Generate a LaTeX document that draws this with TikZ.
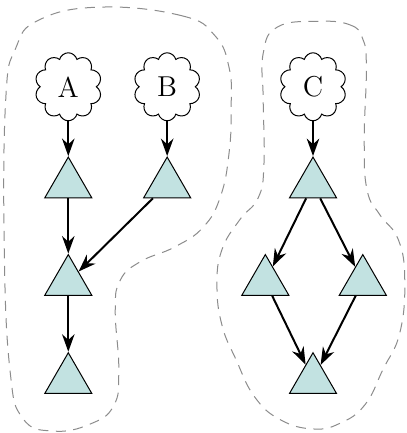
\documentclass[tikz,border=0pt]{standalone}
\definecolor{tealfill}{RGB}{194, 226, 225}
\usepackage{tikz}
\usetikzlibrary{shapes.geometric, shapes.symbols, arrows.meta}

\begin{document}
\begin{tikzpicture}[
    tri/.style={draw, fill=tealfill, regular polygon, regular polygon sides=3, minimum size=21.7pt, inner sep=0pt},
    src/.style={draw, cloud, cloud puffs=10, aspect=1, minimum width=26.8pt, minimum height=27.2pt, inner sep=1pt, font=\fontsize{11.5}{12}\selectfont},
    edge/.style={thick, -{Stealth[length=7pt, width=5pt]}},
    hull/.style={black!45, dashed, dash pattern=on 4pt off 3pt}
  ]
  \useasboundingbox (0,0) rectangle (5.708,-6.087);

  % sources
  \node[src] (A) at (0.96,-1.22) {A};
  \node[src] (B) at (2.35,-1.22) {B};
  \node[src] (C) at (4.40,-1.22) {C};

  % left group
  \node[tri] (a1) at (0.96,-2.59) {};
  \node[tri] (b1) at (2.35,-2.59) {};
  \node[tri] (a2) at (0.96,-3.96) {};
  \node[tri] (a3) at (0.96,-5.34) {};

  % right group
  \node[tri] (c1) at (4.40,-2.59) {};
  \node[tri] (c2) at (3.73,-3.96) {};
  \node[tri] (c3) at (5.10,-3.96) {};
  \node[tri] (c4) at (4.40,-5.34) {};

  \draw[edge] (A) -- (a1);
  \draw[edge] (B) -- (b1);
  \draw[edge] (a1) -- (a2);
  \draw[edge] (b1) -- (a2);
  \draw[edge] (a2) -- (a3);
  \draw[edge] (C) -- (c1);
  \draw[edge] (c1) -- (c2);
  \draw[edge] (c1) -- (c3);
  \draw[edge] (c2) -- (c4);
  \draw[edge] (c3) -- (c4);

  % outlines
  \draw[hull] plot[smooth cycle, tension=0.75] coordinates {
    (1.41,-0.10) (2.55,-0.22) (3.02,-0.50) (3.22,-0.95) (3.25,-1.50)
    (3.22,-2.15) (3.10,-2.76) (2.86,-3.19) (2.46,-3.47) (1.97,-3.68)
    (1.69,-3.94) (1.62,-4.36) (1.67,-5.20) (1.60,-5.70) (1.27,-5.96)
    (0.75,-6.06) (0.32,-5.88) (0.14,-5.20) (0.06,-3.51) (0.08,-1.41)
    (0.22,-0.68) (0.55,-0.28)};
  \draw[hull] plot[smooth cycle, tension=0.75] coordinates {
    (4.46,-0.30) (4.92,-0.35) (5.10,-0.55) (5.15,-0.95) (5.12,-1.97)
    (5.16,-2.67) (5.34,-3.02) (5.60,-3.37) (5.69,-3.94) (5.62,-4.68)
    (5.38,-5.20) (5.13,-5.69) (4.78,-5.95) (4.40,-6.03) (3.94,-5.90)
    (3.58,-5.58) (3.32,-5.06) (3.12,-4.57) (3.05,-4.01) (3.12,-3.51)
    (3.37,-3.09) (3.63,-2.78) (3.71,-2.32) (3.70,-1.41) (3.70,-0.75)
    (3.90,-0.38)};
\end{tikzpicture}
\end{document}
